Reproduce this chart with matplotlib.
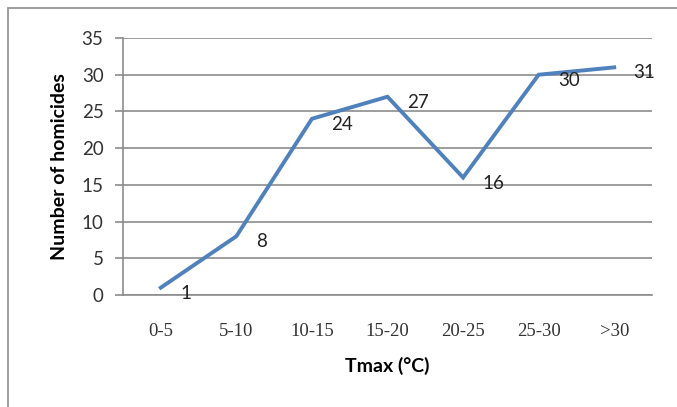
import matplotlib
matplotlib.use("Agg")
import matplotlib.pyplot as plt
from matplotlib.patches import Rectangle

categories = ["0-5", "5-10", "10-15", "15-20", "20-25", "25-30", ">30"]
homicides = [1, 8, 24, 27, 16, 30, 31]
y_ticks = [0, 5, 10, 15, 20, 25, 30, 35]

fig = plt.figure(figsize=(6.77, 4.07), dpi=100)
W, H = 677, 407
ax = fig.add_axes([123 / W, 1 - 295 / H, (652 - 123) / W, (295 - 38) / H])

# outer chart border (cut off at the right and bottom)
fig.patches.append(Rectangle((8 / W, -0.05), 1.1, 1 - 8 / H + 0.05, transform=fig.transFigure,
                             fill=False, edgecolor="#8c8c8c", linewidth=1.2))

x = list(range(len(categories)))
ax.plot(x, homicides, color="#4f81bd", linewidth=2.8, solid_joinstyle="miter")
for xi, v in zip(x, homicides):
    ax.annotate(str(v), (xi, v), xytext=(14, -4), textcoords="offset points",
                ha="left", va="center", fontsize=13.5, family="Lato", color="#222222")

ax.set_xlim(-0.5, len(categories) - 0.5)
ax.set_ylim(0, 35)
ax.set_yticks(y_ticks)
ax.set_xticks(x)
ax.set_xticklabels(categories, family="Liberation Serif", fontsize=13.5, color="#333333")
for lab in ax.get_yticklabels():
    lab.set_family("Lato")
    lab.set_fontsize(13.5)
    lab.set_color("#333333")

ax.grid(axis="y", color="#8c8c8c", linewidth=1.2)
ax.set_axisbelow(True)
for s in ["top", "right"]:
    ax.spines[s].set_visible(False)
ax.spines["left"].set_color("#8c8c8c")
ax.spines["bottom"].set_color("#8c8c8c")
ax.spines["left"].set_linewidth(1.2)
ax.spines["bottom"].set_linewidth(1.2)
ax.tick_params(axis="y", length=6, color="#8c8c8c", width=1.2, pad=8)
ax.tick_params(axis="x", length=0, pad=20)

ax.set_xlabel("Tmax (°C)", family="Lato", fontweight="bold", fontsize=14, labelpad=12)
ax.set_ylabel("Number of homicides", family="Lato", fontweight="bold", fontsize=14, labelpad=10)

fig.savefig("out.png", dpi=100)
